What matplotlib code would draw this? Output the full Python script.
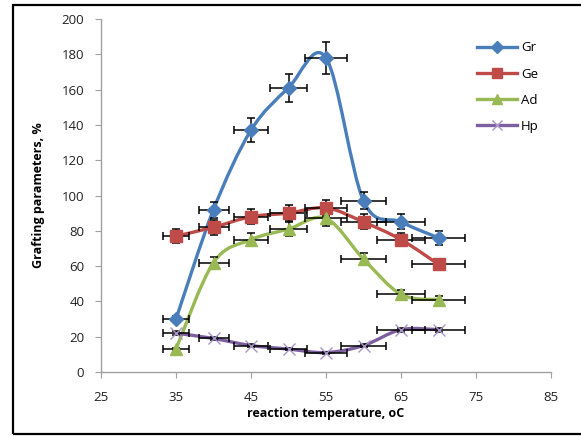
import numpy as np
import matplotlib
matplotlib.use("Agg")
import matplotlib.pyplot as plt
from matplotlib.path import Path
from matplotlib.patches import PathPatch, Rectangle

temps = [35, 40, 45, 50, 55, 60, 65, 70]
gr = [30, 92, 137, 161, 178, 97, 85, 76]
ge = [77, 82, 88, 90, 93, 85, 75, 61]
ad = [13, 62, 75, 81, 87, 64, 44, 41]
hp = [22, 19, 15, 13, 11, 15, 24, 24]
series_names = ["Gr", "Ge", "Ad", "Hp"]
rel_err = 0.05

colors = ["#4A7EBB", "#BE4B48", "#98B954", "#7D5FA0"]
markers = ["D", "s", "^", "x"]
msizes = [7, 9, 8, 8]

plt.rcParams['font.family'] = ['Open Sans', 'DejaVu Sans']

fig = plt.figure(figsize=(5.81, 4.37), dpi=100)
ax = fig.add_axes([101/581, (437-372)/437, 450/581, (372-19)/437])


def smooth_path(x, y):
    x = np.asarray(x, float); y = np.asarray(y, float)
    pts = np.column_stack([x, y])
    verts = [pts[0]]
    codes = [Path.MOVETO]
    n = len(pts)
    for i in range(n - 1):
        p0 = pts[i - 1] if i > 0 else pts[i]
        p1 = pts[i]
        p2 = pts[i + 1]
        p3 = pts[i + 2] if i + 2 < n else pts[i + 1]
        c1 = p1 + (p2 - p0) / 6.0
        c2 = p2 - (p3 - p1) / 6.0
        verts += [c1, c2, p2]
        codes += [Path.CURVE4] * 3
    return Path(verts, codes)


for name, vals, c, m, ms in zip(series_names, [gr, ge, ad, hp], colors, markers, msizes):
    path = smooth_path(temps, vals)
    ax.add_patch(PathPatch(path, fill=False, edgecolor=c, lw=2.4, zorder=2))
    vals = np.asarray(vals, float)
    t = np.asarray(temps, float)
    ax.errorbar(t, vals, yerr=vals * rel_err, xerr=t * rel_err, fmt='none',
                ecolor='black', elinewidth=1.1, capsize=3, capthick=1.1, zorder=3)
    if m == 'x':
        ax.plot(t, vals, linestyle='none', marker=m, color='#A896C8', ms=ms,
                mew=1.0, zorder=4)
    else:
        ax.plot(t, vals, linestyle='none', marker=m, color=c, ms=ms, zorder=4)
    ax.plot([], [], color=c, lw=2.4, marker=m, ms=ms * 0.85,
            mec=('#A896C8' if m == 'x' else c), label=name)

ax.set_xlim(25, 85)
ax.set_ylim(0, 200)
ax.set_xticks(np.arange(25, 86, 10))
ax.set_yticks(np.arange(0, 201, 20))
for s in ['top', 'right']:
    ax.spines[s].set_visible(False)
for s in ['left', 'bottom']:
    ax.spines[s].set_color('#A0A0A0')
    ax.spines[s].set_linewidth(1.0)
ax.tick_params(axis='both', colors='#A0A0A0', labelcolor='#222222',
               labelsize=9.5, length=4, direction='out')
ax.tick_params(axis='x', pad=10)
ax.tick_params(axis='y', pad=8)
ax.set_xlabel("reaction temperature, oC", fontsize=9, fontweight='bold', labelpad=2)
ax.set_ylabel("Grafting parameters, %", fontsize=9, fontweight='bold', labelpad=12)

leg = ax.legend(loc='upper left', bbox_to_anchor=(0.81, 0.97), frameon=False,
                fontsize=9.5, handlelength=3.0, labelspacing=1.0, handletextpad=0.3)

fig.patches.append(Rectangle((13/581, 3/437), 1.0, 429/437, transform=fig.transFigure,
                             fill=False, edgecolor='black', lw=1.6))

fig.savefig("out.png", dpi=100)
